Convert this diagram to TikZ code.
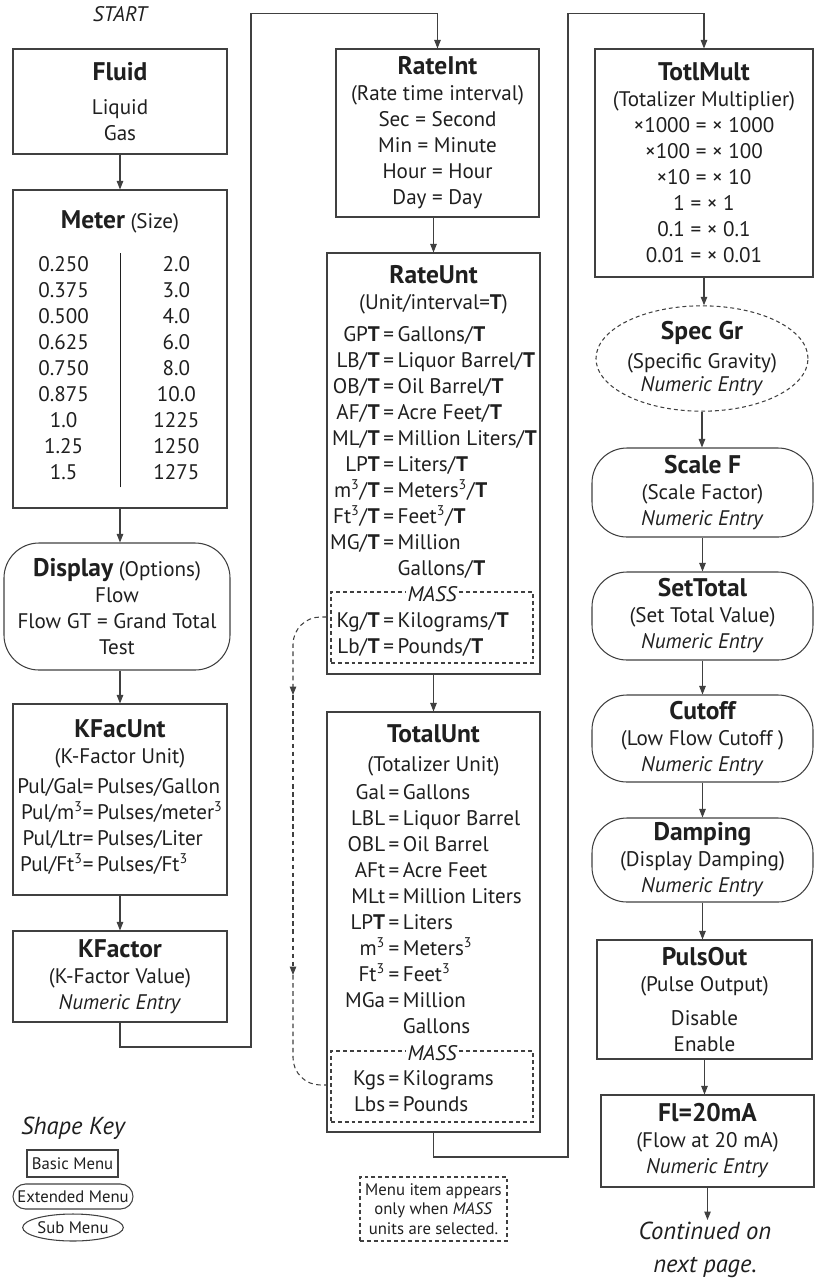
\documentclass[tikz,border=0pt]{standalone}
\usepackage{fontspec}
\setmainfont{PT Sans}
\usepackage{array}
\usetikzlibrary{shapes.geometric,arrows.meta}
\pgfdeclarelayer{bg}
\pgfsetlayers{bg,main}
\definecolor{linegray}{gray}{0.25}
\definecolor{inkblack}{gray}{0.12}
\newcommand{\bodysize}{\fontsize{12}{14.8}\selectfont}
\newcommand{\keysize}{\fontsize{9.5}{11}\selectfont}
\newcommand{\titl}[1]{{\fontsize{14.5}{17}\selectfont\bfseries #1}}
\newcommand{\numentry}{\textit{Numeric Entry}}
\newcommand{\bT}{\textbf{T}}
\newcommand{\cub}{\textsuperscript{3}}
\tikzset{
        menu/.style={draw=linegray, line width=0.6pt, rectangle, inner sep=0pt, align=center, font=\bodysize, text=inkblack},
        extmenu/.style={menu, rounded corners=0.7cm},
        submenu/.style={menu, ellipse, dash pattern=on 2.2pt off 1.7pt},
        massbox/.style={draw=linegray, line width=0.6pt, dash pattern=on 2.2pt off 1.7pt, inner sep=0pt, text=inkblack},
        masstag/.style={fill=white, inner sep=1pt, font=\bodysize\itshape, text=inkblack},
        flow/.style={draw=linegray, line width=0.6pt, -{Triangle[length=0.17cm,width=0.13cm]}},
        massline/.style={flow, dash pattern=on 2.6pt off 2pt, rounded corners=0.55cm},
}

\begin{document}
\begin{tikzpicture}
        \useasboundingbox (0cm, 0cm) rectangle (16.30cm, -25.56cm);
        \node (start) [font=\bodysize\itshape, text=inkblack] at (2.40cm, -0.28cm) {START};
        \node (fluid) [menu, minimum width=4.28cm, minimum height=2.10cm] at (2.40cm, -2.03cm) {\titl{Fluid}\\[5pt] Liquid\\ Gas};
        \node (meter) [menu, minimum width=4.28cm, minimum height=6.36cm] at (2.40cm, -6.98cm) {\titl{Meter} (Size)\\[9.7pt]
                \begin{tabular}[t]{@{}>{\centering\arraybackslash}p{2.0cm}@{\hspace{0.12cm}}|@{\hspace{0.12cm}}>{\centering\arraybackslash}p{2.0cm}@{}}
                0.250 & 2.0\\ 0.375 & 3.0\\ 0.500 & 4.0\\ 0.625 & 6.0\\ 0.750 & 8.0\\
                0.875 & 10.0\\ 1.0 & 1225\\ 1.25 & 1250\\ 1.5 & 1275
                \end{tabular}};
        \node (display) [extmenu, minimum width=4.52cm, minimum height=2.54cm] at (2.34cm, -12.13cm) {\titl{Display} (Options)\\ Flow\\ Flow GT = Grand Total\\ Test};
        \node (kfacunt) [menu, minimum width=4.28cm, minimum height=3.82cm] at (2.40cm, -15.99cm) {\titl{KFacUnt}\\ (K-Factor Unit)\\[2pt]
                \begin{tabular}[t]{@{}r@{=\,}l@{}}
                Pul/Gal & Pulses/Gallon\\ Pul/m\cub & Pulses/meter\cub\\ Pul/Ltr & Pulses/Liter\\ Pul/Ft\cub & Pulses/Ft\cub
                \end{tabular}};
        \node (kfactor) [menu, minimum width=4.28cm, minimum height=1.82cm] at (2.40cm, -19.53cm) {\titl{KFactor}\\ (K-Factor Value)\\ \numentry};

        \node (rateint) [menu, minimum width=4.06cm, minimum height=3.36cm] at (8.75cm, -2.66cm) {\titl{RateInt}\\ (Rate time interval)\\ Sec = Second\\ Min = Minute\\ Hour = Hour\\ Day = Day};
        \node (rateunt) [menu, minimum width=4.26cm, minimum height=8.42cm] at (8.67cm, -9.27cm) {\titl{RateUnt}\\ (Unit/interval=\bT)\\[3pt]
                \begin{tabular}[t]{@{}r@{\,=\,}l@{}}
                GP\bT & Gallons/\bT\\ LB/\bT & Liquor Barrel/\bT\\ OB/\bT & Oil Barrel/\bT\\
                AF/\bT & Acre Feet/\bT\\ ML/\bT & Million Liters/\bT\\ LP\bT & Liters/\bT\\
                m\cub/\bT & Meters\cub/\bT\\ Ft\cub/\bT & Feet\cub/\bT\\ MG/\bT & Million\\
                \multicolumn{1}{r}{} & Gallons/\bT\\ \multicolumn{2}{c}{}\\
                Kg/\bT & Kilograms/\bT\\ Lb/\bT & Pounds/\bT
                \end{tabular}};
        \node (rumass) [massbox, minimum width=4.04cm, minimum height=1.42cm] at (8.64cm, -12.55cm) {};
        \node (rumasstag) [masstag] at ([yshift=-0.06cm]rumass.north) {MASS};
        \node (totalunt) [menu, minimum width=4.26cm, minimum height=8.40cm] at (8.67cm, -18.44cm) {\titl{TotalUnt}\\[1.7pt] (Totalizer Unit)\\[1pt]
                \begin{tabular}[t]{@{}r@{\,=\,}l@{}}
                Gal & Gallons\\ LBL & Liquor Barrel\\ OBL & Oil Barrel\\ AFt & Acre Feet\\
                MLt & Million Liters\\ LP\bT & Liters\\ m\cub & Meters\cub\\ Ft\cub & Feet\cub\\
                MGa & Million\\ \multicolumn{1}{r}{} & Gallons\\ \multicolumn{2}{c}{}\\
                Kgs & Kilograms\\ Lbs & Pounds
                \end{tabular}};
        \node (tumass) [massbox, minimum width=4.04cm, minimum height=1.42cm] at (8.64cm, -21.73cm) {};
        \node (tumasstag) [masstag] at ([yshift=-0.06cm]tumass.north) {MASS};
        \node (massnote) [massbox, align=center, font=\keysize, minimum width=2.94cm, minimum height=1.28cm] at (8.67cm, -24.18cm) {Menu item appears\\ only when \textit{MASS}\\ units are selected.};

        \node (totlmult) [menu, minimum width=4.36cm, minimum height=4.56cm] at (14.08cm, -3.26cm) {\titl{TotlMult}\\ (Totalizer Multiplier)\\ ×1000 = × 1000\\ ×100 = × 100\\ ×10 = × 10\\ 1 = × 1\\ 0.1 = × 0.1\\ 0.01 = × 0.01};
        \node (specgr) [submenu, minimum width=4.12cm, minimum height=2.06cm] at (14.04cm, -7.17cm) {\titl{Spec Gr}\\[2pt] (Specific Gravity)\\[-2pt] \numentry};
        \node (scalef) [extmenu, minimum width=4.42cm, minimum height=1.78cm] at (14.05cm, -9.85cm) {\titl{Scale F}\\ (Scale Factor)\\ \numentry};
        \node (settotal) [extmenu, minimum width=4.42cm, minimum height=1.76cm] at (14.05cm, -12.32cm) {\titl{SetTotal}\\ (Set Total Value)\\ \numentry};
        \node (cutoff) [extmenu, minimum width=4.42cm, minimum height=1.74cm] at (14.05cm, -14.77cm) {\titl{Cutoff}\\ (Low Flow Cutoff )\\ \numentry};
        \node (damping) [extmenu, minimum width=4.42cm, minimum height=1.68cm] at (14.05cm, -17.20cm) {\titl{Damping}\\ (Display Damping)\\ \numentry};
        \node (pulsout) [menu, minimum width=4.30cm, minimum height=2.38cm] at (14.09cm, -19.99cm) {\titl{PulsOut}\\ (Pulse Output)\\[5pt] Disable\\ Enable};
        \node (flow20) [menu, minimum width=4.26cm, minimum height=1.84cm] at (14.15cm, -22.82cm) {\titl{Fl=20mA}\\ (Flow at 20 mA)\\ \numentry};
        \node (cont) [anchor=north, align=center, inner sep=1pt, text=inkblack, font=\fontsize{14}{18.8}\selectfont\itshape] at (14.10cm, -24.40cm) {Continued on\\ next page.};

        \node (keytitle) [text=inkblack, font=\fontsize{14}{17}\selectfont\itshape] at (1.46cm, -22.56cm) {Shape Key};
        \node (keybasic) [menu, font=\keysize, minimum width=1.82cm, minimum height=0.54cm] at (1.45cm, -23.27cm) {Basic Menu};
        \node (keyext) [menu, rounded corners=0.25cm, font=\keysize, minimum width=2.40cm, minimum height=0.50cm] at (1.46cm, -23.93cm) {Extended Menu};
        \node (keysub) [menu, ellipse, font=\keysize, minimum width=1.88cm, minimum height=0.54cm] at (1.46cm, -24.55cm) {Sub Menu};

        \coordinate (turnA) at (5.02cm, -20.94cm);
        \coordinate (turnB) at (5.02cm, -0.27cm);
        \coordinate (turnC) at (11.36cm, -23.14cm);
        \coordinate (turnD) at (11.36cm, -0.27cm);
        \coordinate (massA) at (6.54cm, -12.34cm);
        \coordinate (massB) at (5.86cm, -13.90cm);
        \coordinate (massC) at (5.86cm, -19.50cm);
        \coordinate (massD) at (6.54cm, -21.70cm);
        \begin{pgfonlayer}{bg}
                \draw (fluid.south) edge [flow] (fluid.south |- meter.north);
                \draw (meter.south) edge [flow] (meter.south |- display.north);
                \draw (display.south -| meter.south) edge [flow] (meter.south |- kfacunt.north);
                \draw (kfacunt.south) edge [flow] (kfacunt.south |- kfactor.north);
                \draw [flow] (kfactor.south) |- (turnA) -- (turnB) -| (rateint.north);
                \draw (rateint.south -| rateunt.north) edge [flow] (rateunt.north);
                \draw (rateunt.south) edge [flow] (rateunt.south |- totalunt.north);
                \draw [flow] (totalunt.south) |- (turnC) -- (turnD) -| (totlmult.north);
                \draw (totlmult.south) edge [flow] (totlmult.south |- specgr.north);
                \draw (specgr.south) edge [flow] (specgr.south |- scalef.north);
                \draw (scalef.south) edge [flow] (scalef.south |- settotal.north);
                \draw (settotal.south) edge [flow] (settotal.south |- cutoff.north);
                \draw (cutoff.south) edge [flow] (cutoff.south |- damping.north);
                \draw (damping.south) edge [flow] (damping.south |- pulsout.north);
                \draw (pulsout.south) edge [flow] (pulsout.south |- flow20.north);
                \draw (flow20.south) edge [flow] (flow20.south |- cont.north);
                \draw [massline] (massA) -| (massB);
                \draw [massline] (massB) -- (massC);
                \draw [massline, -] (massC) |- (massD);
        \end{pgfonlayer}
\end{tikzpicture}
\end{document}
